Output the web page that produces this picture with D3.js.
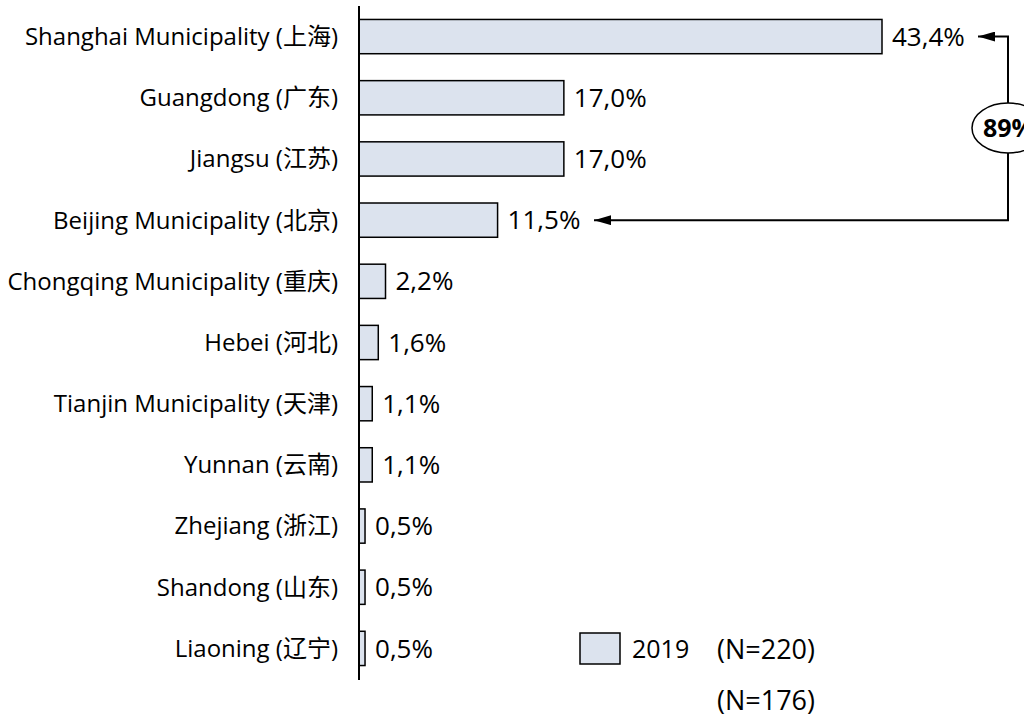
<!DOCTYPE html>
<html><head><meta charset="utf-8">
<script src="https://cdn.jsdelivr.net/npm/d3@7"></script>
<style>body{margin:0;background:#fff}svg{display:block}</style>
</head><body>
<script>
const categories = ["Shanghai Municipality (上海)","Guangdong (广东)","Jiangsu (江苏)","Beijing Municipality (北京)","Chongqing Municipality (重庆)","Hebei (河北)","Tianjin Municipality (天津)","Yunnan (云南)","Zhejiang (浙江)","Shandong (山东)","Liaoning (辽宁)"];
const values2019 = [43.4,17.0,17.0,11.5,2.2,1.6,1.1,1.1,0.5,0.5,0.5];
const valueLabels = ["43,4%","17,0%","17,0%","11,5%","2,2%","1,6%","1,1%","1,1%","0,5%","0,5%","0,5%"];
const seriesName = "2019";
const sampleNotes = ["(N=220)","(N=176)"];
const sumLabel = "89%";

const W=1024,H=717;
const font = "'Open Sans', 'Noto Sans CJK SC', sans-serif";
const svg=d3.select("body").append("svg").attr("width",W).attr("height",H)
  .style("font-family",font);
const x0=359;
const x=d3.scaleLinear().domain([0,43.4]).range([x0,882]);
const y=d3.scaleBand().domain(categories).range([6,679]).paddingInner(0.44).paddingOuter(0.22);

svg.selectAll("rect.bar").data(values2019).join("rect")
  .attr("x",x(0)).attr("y",(d,i)=>y(categories[i]))
  .attr("width",d=>x(d)-x(0)).attr("height",y.bandwidth())
  .attr("fill","#dce3ee").attr("stroke","#000").attr("stroke-width",1.5);

svg.append("line").attr("x1",x0).attr("x2",x0).attr("y1",6).attr("y2",680)
  .attr("stroke","#000").attr("stroke-width",2);

svg.selectAll("text.cat").data(categories).join("text")
  .attr("x",338).attr("y",d=>y(d)+y.bandwidth()/2).attr("dy","0.35em")
  .attr("text-anchor","end").attr("font-size",24).attr("fill","#000").text(d=>d);

svg.selectAll("text.val").data(values2019).join("text")
  .attr("x",d=>x(d)+10).attr("y",(d,i)=>y(categories[i])+y.bandwidth()/2).attr("dy","0.35em")
  .attr("font-size",26).attr("fill","#000").text((d,i)=>valueLabels[i]);

// bracket arrow
const yTop=y(categories[0])+y.bandwidth()/2, yB=y(categories[3])+y.bandwidth()/2;
const xr=1008;
svg.append("defs").append("marker").attr("id","ah").attr("viewBox","0 0 17 10")
  .attr("refX",17).attr("refY",5).attr("markerWidth",17).attr("markerHeight",10)
  .attr("markerUnits","userSpaceOnUse").attr("orient","auto")
  .append("path").attr("d","M0,0L17,5L0,10Z").attr("fill","#000");
svg.append("path").attr("d",`M${xr},${yTop+90}V${yTop}H978`).attr("fill","none").attr("stroke","#000").attr("stroke-width",2).attr("marker-end","url(#ah)");
svg.append("path").attr("d",`M${xr},${yTop+90}V${yB}H594`).attr("fill","none").attr("stroke","#000").attr("stroke-width",2).attr("marker-end","url(#ah)");
svg.append("ellipse").attr("cx",1008).attr("cy",128).attr("rx",36).attr("ry",25)
  .attr("fill","#fff").attr("stroke","#000").attr("stroke-width",1.5);
svg.append("text").attr("x",983).attr("y",128).attr("dy","0.35em")
  .attr("font-size",25).attr("font-weight","bold").text(sumLabel);

// legend
svg.append("rect").attr("x",580).attr("y",633).attr("width",40).attr("height",31)
  .attr("fill","#dce3ee").attr("stroke","#000").attr("stroke-width",1.5);
svg.append("text").attr("x",632).attr("y",649).attr("dy","0.35em").attr("font-size",25).text(seriesName);
svg.selectAll("text.n").data(sampleNotes).join("text").attr("x",717).attr("y",(d,i)=>650+i*51)
  .attr("dy","0.35em").attr("font-size",27).text(d=>d);
</script>
</body></html>
